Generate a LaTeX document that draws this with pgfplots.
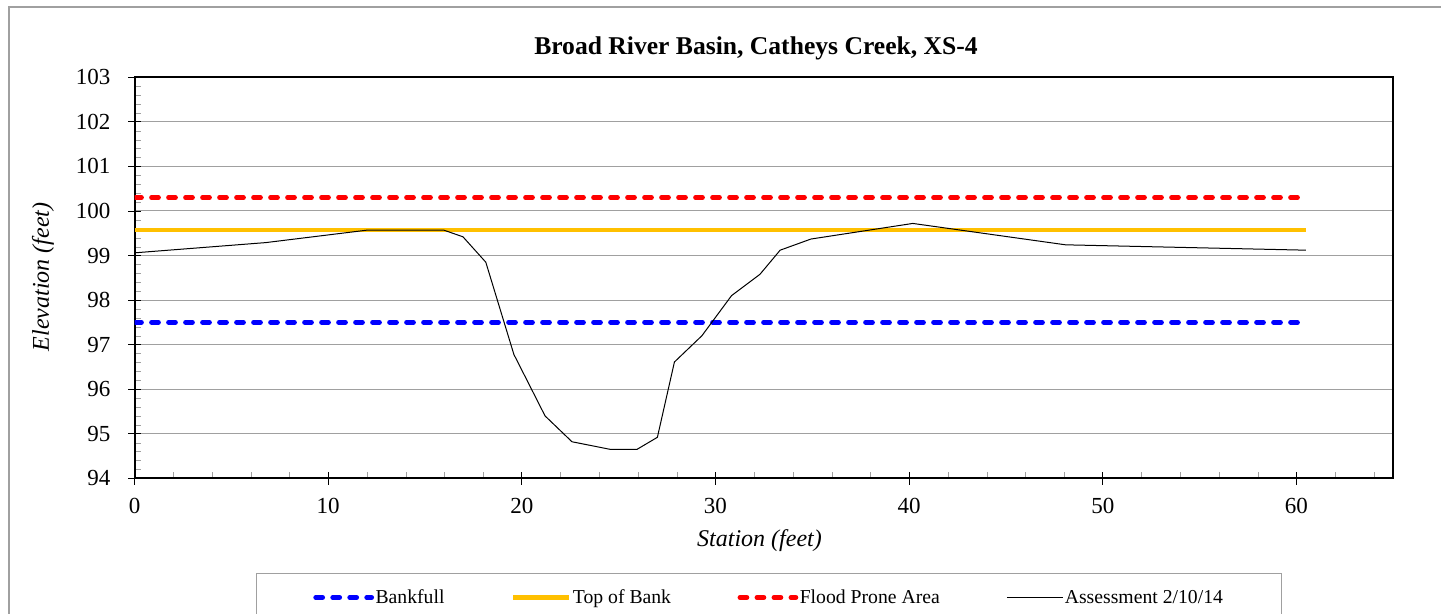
\documentclass[border=0pt]{standalone}
\usepackage{fontspec}
\setmainfont{Liberation Serif}
\usepackage{pgfplots}
\pgfplotsset{compat=1.18}
\definecolor{tobyel}{RGB}{255,192,0}
\definecolor{gridgr}{RGB}{160,160,160}
\begin{document}
\begin{tikzpicture}[x=1bp,y=1bp]
\draw[gridgr, line width=1.2bp] (9,-20) -- (9,607) -- (1460,607);
\begin{axis}[
  at={(134.5bp,135.7bp)}, anchor=south west,
  scale only axis, width=1258.8bp, height=401bp,
  xmin=0, xmax=65, ymin=94, ymax=103,
  xtick distance=10, ytick distance=1,
  minor x tick num=4, minor y tick num=4,
  tick pos=left, tick align=center,
  major tick length=13bp, minor tick length=6bp,
  minor x tick style={yshift=3bp, gridgr},
  minor y tick style={xshift=3bp, gridgr},
  major tick style={black, line width=0.8bp},
  axis line style={black, line width=2bp},
  ymajorgrids, major grid style={gridgr, line width=1bp},
  /pgf/number format/assume math mode=true,
  ticklabel style={font=\fontsize{23bp}{26bp}\selectfont},
  xticklabel style={yshift=-10bp},
  yticklabel style={xshift=-14bp},
  legend style={at={(0.504,-0.2369)}, anchor=north, legend columns=4,
    draw=gridgr, line width=1bp, inner xsep=57bp, inner ysep=14bp,
    font=\fontsize{19.7bp}{22bp}\selectfont,
    /tikz/every even column/.append style={column sep=65bp},
    nodes={inner xsep=1.5bp}},
  legend image code/.code={\draw[#1] (0bp,0bp) -- (56bp,0bp);},
]
\addplot[blue, line width=4.7bp, line cap=round, dash pattern=on 7bp off 10bp] coordinates {(0,97.5) (60.5,97.5)};
\addlegendentry{Bankfull}
\addplot[tobyel, line width=4.4bp] coordinates {(0,99.57) (60.5,99.57)};
\addlegendentry{Top of Bank}
\addplot[red, line width=4.7bp, line cap=round, dash pattern=on 7bp off 10bp] coordinates {(0,100.3) (60.5,100.3)};
\addlegendentry{Flood Prone Area}
\addplot[black, line width=1bp] coordinates {
 (0,99.06) (6.78,99.29) (12.02,99.57) (15.97,99.57) (16.96,99.42) (18.14,98.85)
 (19.59,96.78) (21.2,95.40) (22.59,94.82) (24.56,94.65) (25.95,94.65) (27.0,94.92)
 (27.88,96.61) (29.30,97.20) (30.83,98.10) (32.30,98.58) (33.34,99.12) (34.93,99.37)
 (40.19,99.72) (48.08,99.24) (60.48,99.12)};
\addlegendentry{Assessment 2/10/14}
\end{axis}
\node[anchor=base, font=\bfseries\fontsize{25.6bp}{29bp}\selectfont] at (756,559) {Broad River Basin, Catheys Creek, XS-4};
\node[anchor=base, font=\itshape\fontsize{24bp}{27bp}\selectfont] at (759.5,67) {Station (feet)};
\node[rotate=90, font=\itshape\fontsize{24bp}{27bp}\selectfont] at (43,337) {Elevation (feet)};
\pgfresetboundingbox
\path (0,0) rectangle (1441,614);
\end{tikzpicture}
\end{document}
